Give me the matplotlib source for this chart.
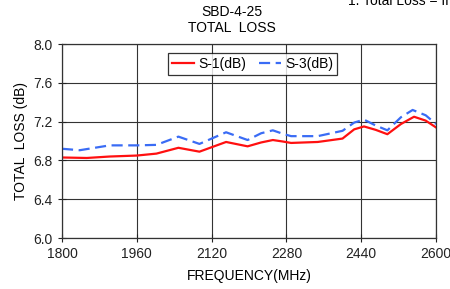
import matplotlib
matplotlib.use('Agg')
import matplotlib.pyplot as plt

plt.rcParams['font.family'] = ['Liberation Sans', 'DejaVu Sans']

# S-1 readings (MHz, dB)
freq_s1 = [1800, 1853, 1902, 1960, 2002, 2049, 2094, 2151, 2197, 2226, 2251, 2272, 2290,
           2347, 2400, 2425, 2446, 2471, 2496, 2525, 2553, 2578, 2600]
loss_s1 = [6.83, 6.825, 6.84, 6.85, 6.87, 6.93, 6.89, 6.99, 6.945, 6.985, 7.01, 6.995, 6.98,
           6.99, 7.025, 7.12, 7.15, 7.115, 7.07, 7.175, 7.25, 7.21, 7.14]

# S-3 readings (MHz, dB)
freq_s3 = [1800, 1838, 1902, 1960, 2002, 2049, 2094, 2151, 2197, 2226, 2251, 2272, 2290,
           2347, 2400, 2425, 2446, 2471, 2496, 2525, 2550, 2578, 2600]
loss_s3 = [6.92, 6.905, 6.955, 6.955, 6.96, 7.045, 6.97, 7.09, 7.01, 7.08, 7.11, 7.075, 7.05,
           7.05, 7.105, 7.19, 7.22, 7.16, 7.11, 7.245, 7.32, 7.265, 7.175]

xticks = [1800, 1960, 2120, 2280, 2440, 2600]
yticks = [6.0, 6.4, 6.8, 7.2, 7.6, 8.0]

fig = plt.figure(figsize=(4.5, 2.89), dpi=100)
ax = fig.add_axes([62/450, 1-238/289, (436-62)/450, (238-44)/289])

ax.plot(freq_s1, loss_s1, color='#ff1010', lw=1.6, label='S-1(dB)',
        solid_joinstyle='round')
ax.plot(freq_s3, loss_s3, color='#3a6cf5', lw=1.6, dashes=(5, 2.5), label='S-3(dB)',
        dash_joinstyle='round')

ax.set_xlim(1800, 2600)
ax.set_ylim(6.0, 8.0)
ax.set_xticks(xticks)
ax.set_yticks(yticks)
ax.set_yticklabels(['%.1f' % v for v in yticks])
ax.grid(True, color='#333333', lw=0.8)
ax.tick_params(direction='inout', length=6, width=0.8, labelsize=10, colors='#222222')
for s in ax.spines.values():
    s.set_color('#333333')
    s.set_linewidth(0.9)

ax.set_xlabel('FREQUENCY(MHz)', fontsize=10, labelpad=6)
ax.set_ylabel('TOTAL  LOSS (dB)', fontsize=10, labelpad=4)

fig.text(232/450, 1-12/289, 'SBD-4-25', ha='center', va='center', fontsize=10)
fig.text(232/450, 1-28/289, 'TOTAL  LOSS', ha='center', va='center', fontsize=10)
fig.text(348/450, 1-1/289, '1. Total Loss = Insertion Loss', ha='left', va='center', fontsize=10)

leg = ax.legend(loc='upper center', bbox_to_anchor=(0.51, 0.955), ncol=2, fontsize=10,
                frameon=True, fancybox=False, handlelength=1.6, columnspacing=0.9,
                handletextpad=0.3, borderpad=0.3, borderaxespad=0)
leg.get_frame().set_edgecolor('black')
leg.get_frame().set_linewidth(0.9)

fig.savefig('out.png', dpi=100)
